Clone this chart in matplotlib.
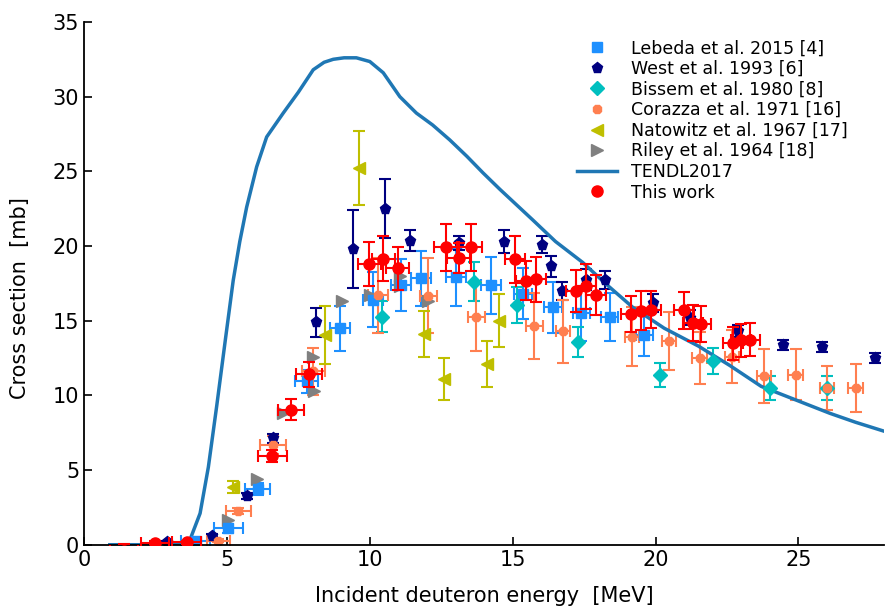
import numpy as np
import matplotlib
matplotlib.use("Agg")
import matplotlib.pyplot as plt
from matplotlib.lines import Line2D

# TENDL2017 curve
tendl_e = [0.9, 2.0, 3.0, 3.4, 3.7, 4.06, 4.35, 4.64, 4.95, 5.22, 5.45, 5.69, 6.04, 6.39, 6.97, 7.5,
           8.02, 8.4, 8.72, 9.1, 9.53, 10.0, 10.47, 11.05, 11.63, 12.2, 12.8, 13.4, 13.96, 14.55,
           15.7, 16.5, 17.45, 18.3, 19.2, 20.3, 21.5, 22.6, 23.7, 24.9, 26.1, 27.0, 28.0]
tendl_s = [0.0, 0.0, 0.02, 0.08, 0.3, 2.1, 5.2, 9.26, 13.8, 17.7, 20.3, 22.6, 25.3, 27.3, 28.9, 30.3,
           31.8, 32.3, 32.5, 32.6, 32.6, 32.35, 31.6, 30.0, 28.9, 28.1, 27.1, 26.0, 24.9, 23.8,
           21.75, 20.3, 18.9, 17.4, 15.9, 14.5, 13.3, 12.0, 10.6, 9.7, 8.8, 8.2, 7.6]

# Lebeda et al. 2015 [4]
leb_e = [3.9, 5.05, 6.07, 7.79, 8.97, 10.12, 11.1, 11.78, 13.03, 14.23, 15.36, 16.41, 17.4, 18.39, 19.6]
leb_s = [0.25, 1.11, 3.73, 10.93, 14.5, 16.4, 17.4, 17.85, 17.9, 17.36, 16.8, 15.9, 15.5, 15.24, 14.06]
leb_ds = [0.1, 0.3, 0.4, 0.75, 1.5, 1.84, 1.73, 1.84, 1.9, 1.9, 1.7, 1.7, 1.84, 1.6, 1.45]
leb_de = [0.5, 0.5, 0.45, 0.4, 0.35, 0.35, 0.35, 0.35, 0.35, 0.35, 0.3, 0.3, 0.3, 0.3, 0.3]

# West et al. 1993 [6]
west_e = [2.9, 4.46, 5.69, 6.62, 8.11, 9.42, 10.52, 11.42, 13.12, 14.7, 16.04, 16.33, 16.74, 17.58,
          18.22, 19.9, 21.2, 22.88, 24.45, 25.83, 27.69]
west_s = [0.2, 0.6, 3.23, 7.14, 14.88, 19.8, 22.5, 20.35, 20.2, 20.3, 20.1, 18.63, 17.0, 17.74,
          17.74, 16.18, 15.2, 14.28, 13.39, 13.23, 12.5]
west_ds = [0.05, 0.1, 0.2, 0.3, 0.98, 2.6, 1.97, 0.7, 0.5, 0.78, 0.6, 0.7, 0.6, 0.7,
           0.6, 0.6, 0.5, 0.4, 0.35, 0.35, 0.35]

# Bissem et al. 1980 [8]
bis_e = [10.44, 13.65, 15.15, 17.28, 20.17, 22.0, 23.99, 26.0]
bis_s = [15.28, 17.6, 16.06, 13.6, 11.38, 12.3, 10.49, 10.5]
bis_ds = [1.06, 1.3, 1.2, 1.0, 0.8, 0.9, 0.8, 0.8]

# Corazza et al. 1971 [16]
cor_e = [4.7, 5.4, 6.62, 8.02, 10.3, 12.04, 13.73, 15.75, 16.76, 19.18, 20.46, 21.54, 22.68,
         23.79, 24.9, 26.0, 27.0]
cor_s = [0.27, 2.23, 6.69, 11.6, 16.7, 16.67, 15.28, 14.66, 14.28, 13.94, 13.65, 12.5, 12.6,
         11.3, 11.38, 10.49, 10.49]
cor_ds = [0.1, 0.2, 0.6, 1.6, 2.5, 2.5, 2.3, 2.2, 2.1, 2.0, 1.95, 1.74, 1.8, 1.8, 1.7, 1.5, 1.6]
cor_de = [0.4, 0.45, 0.45, 0.4, 0.35, 0.3, 0.3, 0.3, 0.25, 0.25, 0.25, 0.25, 0.25, 0.25, 0.25, 0.25, 0.25]

# Natowitz et al. 1967 [17]
nat_e = [5.2, 8.43, 9.63, 11.89, 12.6, 14.11, 14.51]
nat_s = [3.86, 14.06, 25.2, 14.12, 11.1, 12.1, 15.0]
nat_ds = [0.4, 1.95, 2.48, 1.53, 1.4, 1.54, 1.78]

# Riley et al. 1964 [18]
ril_e = [5.02, 6.04, 6.97, 8.02, 8.05, 9.03, 10.0, 11.05, 11.05, 12.04]
ril_s = [1.67, 4.4, 8.8, 12.56, 10.26, 16.29, 16.73, 18.0, 17.34, 16.29]

# This work
tw_e = [1.4, 2.48, 3.59, 6.59, 7.24, 7.87, 9.98, 10.47, 10.97, 12.66, 13.11, 13.53, 15.07, 15.45,
        15.83, 17.2, 17.55, 17.93, 19.15, 19.5, 19.83, 21.0, 21.3, 21.6, 22.7, 23.0, 23.29]
tw_s = [-0.4, 0.12, 0.18, 5.91, 9.04, 11.42, 18.8, 19.14, 18.5, 19.9, 19.2, 19.9, 19.1, 17.67,
        17.78, 17.0, 17.3, 16.73, 15.44, 15.66, 15.73, 15.7, 14.84, 14.8, 13.5, 13.7, 13.72]
tw_ds = [0.45, 0.1, 0.1, 0.4, 0.7, 0.84, 1.5, 1.5, 1.45, 1.6, 1.0, 1.6, 1.6, 1.3,
         1.5, 1.4, 1.5, 1.35, 1.2, 1.3, 1.25, 1.25, 1.2, 1.2, 1.1, 1.1, 1.1]
tw_de = [0.5, 0.5, 0.5, 0.5, 0.45, 0.45, 0.4, 0.4, 0.4, 0.4, 0.4, 0.4, 0.35, 0.35,
         0.35, 0.35, 0.35, 0.35, 0.35, 0.35, 0.35, 0.35, 0.35, 0.35, 0.35, 0.35, 0.35]

labels = ['Lebeda et al. 2015 [4]', 'West et al. 1993 [6]', 'Bissem et al. 1980 [8]',
          'Corazza et al. 1971 [16]', 'Natowitz et al. 1967 [17]', 'Riley et al. 1964 [18]',
          'TENDL2017', 'This work']

fig = plt.figure(figsize=(8.85, 6.1), dpi=100)
ax = fig.add_axes([0.095, 0.107, 0.904, 0.857])

eb = dict(linestyle='none', capsize=4, elinewidth=1.5, capthick=1.5)
ax.errorbar(leb_e, leb_s, yerr=leb_ds, xerr=leb_de, fmt='s', color='dodgerblue', ms=7, **eb)
ax.errorbar(west_e, west_s, yerr=west_ds, fmt='p', color='navy', ms=8, **eb)
ax.errorbar(bis_e, bis_s, yerr=bis_ds, fmt='D', color='c', ms=7, **eb)
ax.errorbar(cor_e, cor_s, yerr=cor_ds, xerr=cor_de, fmt='8', color='coral', ms=7, **eb)
ax.errorbar(nat_e, nat_s, yerr=nat_ds, fmt='<', color='y', ms=8, **eb)
ax.plot(ril_e, ril_s, '>', color='gray', ms=9, linestyle='none')
ax.plot(tendl_e, tendl_s, '-', color='#1f77b4', lw=2.5)
ax.errorbar(tw_e, tw_s, yerr=tw_ds, xerr=tw_de, fmt='o', color='red', ms=8, zorder=5, **eb)

# legend with plain markers (no error bars)
handles = [
    Line2D([], [], marker='s', color='dodgerblue', ls='none', ms=7),
    Line2D([], [], marker='p', color='navy', ls='none', ms=8),
    Line2D([], [], marker='D', color='c', ls='none', ms=7),
    Line2D([], [], marker='8', color='coral', ls='none', ms=7),
    Line2D([], [], marker='<', color='y', ls='none', ms=8),
    Line2D([], [], marker='>', color='gray', ls='none', ms=9),
    Line2D([], [], color='#1f77b4', lw=2.5),
    Line2D([], [], marker='o', color='red', ls='none', ms=8),
]
ax.legend(handles, labels, loc='upper left', frameon=False, fontsize=12.5,
          labelspacing=0.15, handlelength=2.3, handletextpad=0.85, borderaxespad=0,
          bbox_to_anchor=(0.6437, 0.947), bbox_transform=fig.transFigure)

ax.set_xlim(0, 28)
ax.set_ylim(0, 35)
ax.set_xticks([0, 5, 10, 15, 20, 25])
ax.set_yticks([0, 5, 10, 15, 20, 25, 30, 35])
ax.tick_params(direction='in', labelsize=15, length=6, width=1.2)
ax.spines['top'].set_visible(False)
ax.spines['right'].set_visible(False)
ax.spines['left'].set_linewidth(1.3)
ax.spines['bottom'].set_linewidth(1.3)
ax.set_xlabel('Incident deuteron energy  [MeV]', fontsize=15, labelpad=12)
ax.set_ylabel('Cross section  [mb]', fontsize=15)
ax.yaxis.set_label_coords(-0.0675, 0.471)

fig.savefig('out.png', dpi=100)
